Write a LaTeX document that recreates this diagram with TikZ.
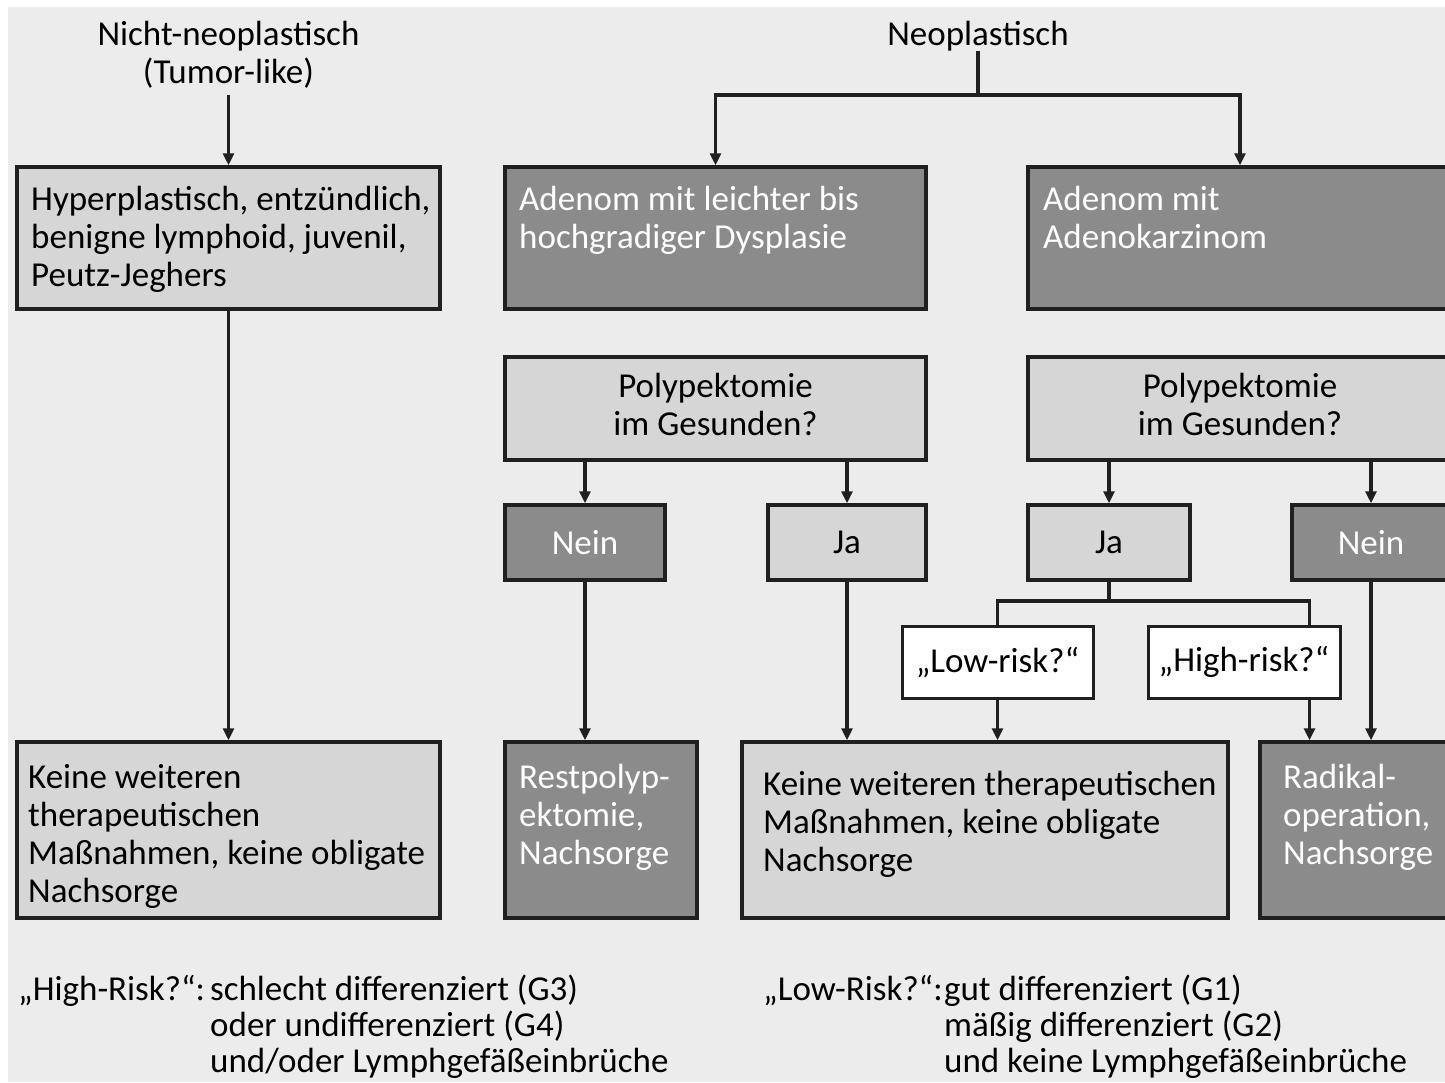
\documentclass[tikz,border=0pt]{standalone}
\usepackage{fontspec}
\setmainfont{Carlito}
\usepackage{tikz}
\usetikzlibrary{arrows.meta,calc}

\definecolor{bggray}{HTML}{ECECEC}
\definecolor{boxlight}{HTML}{D6D6D6}
\definecolor{boxdark}{HTML}{8B8B8B}
\definecolor{rim}{HTML}{202020}

\newcommand{\boxlines}[2][l]{\begin{tabular}[t]{@{}#1@{}}#2\end{tabular}}

\tikzset{
  plain/.style={font=\fontsize{35}{38}\selectfont, inner sep=0pt, text=black},
  wplain/.style={plain, text=white},
  box/.style={draw=rim, line width=3.5pt, inner sep=0pt, font=\fontsize{35}{38}\selectfont},
  lightbox/.style={box, fill=boxlight},
  darkbox/.style={box, fill=boxdark, text=white},
  whitebox/.style={box, fill=white, line width=3pt},
  line/.style={draw=rim, line width=3.5pt},
  arrow/.style={line, -{Triangle[length=12pt,width=11pt]}},
}

\begin{document}
\begin{tikzpicture}[x=1pt, y=-1pt]
    \useasboundingbox (0,0) rectangle (1445,1082);
    \clip (0,0) rectangle (1445,1082);
    \fill[white] (0,0) rectangle (1445,1082);
    \fill[bggray] (8,7) rectangle (1445,1082);

    % non-neoplastic branch
    \node[plain, anchor=base] (nneo) at (228.5,45) {\boxlines[c]{Nicht-neoplastisch\\(Tumor-like)}};
    \node[lightbox, minimum width=423, minimum height=142] (hyp) at (228.5,238) {};
    \node[plain, anchor=base west] at (31,210) {\boxlines{Hyperplastisch, entzündlich,\\benigne lymphoid, juvenil,\\Peutz-Jeghers}};
    \node[lightbox, minimum width=423, minimum height=176] (keine1) at (228.5,830) {};
    \node[plain, anchor=base west] at (28,788) {\boxlines{Keine weiteren\\therapeutischen\\Maßnahmen, keine obligate\\Nachsorge}};
    \draw[arrow] (nneo.south -| hyp.north) -- (hyp.north);
    \draw[arrow] (hyp.south) -- (keine1.north);

    % neoplastic branch
    \node[plain, anchor=base] (neo) at (978,45) {Neoplastisch};
    \coordinate (neosplit) at (978,95);
    \node[darkbox, minimum width=421, minimum height=142] (adys) at (715.5,238) {};
    \node[wplain, anchor=base west] at (519,210) {\boxlines{Adenom mit leichter bis\\hochgradiger Dysplasie}};
    \node[darkbox, minimum width=424, minimum height=142] (akarz) at (1240,238) {};
    \node[wplain, anchor=base west] at (1043,210) {\boxlines{Adenom mit\\Adenokarzinom}};
    \draw[line] (neo.south) -- (neosplit);
    \draw[arrow] (neosplit) -| (adys.north);
    \draw[arrow] (neosplit) -| (akarz.north);

    \node[lightbox, minimum width=421, minimum height=103] (poly1) at (715.5,408.5) {\boxlines[c]{Polypektomie\\im Gesunden?}};
    \node[lightbox, minimum width=424, minimum height=103] (poly2) at (1240,408.5) {\boxlines[c]{Polypektomie\\im Gesunden?}};

    \node[darkbox, minimum width=160, minimum height=75] (nein1) at (585,542.5) {Nein};
    \node[lightbox, minimum width=158, minimum height=75] (ja1) at (847,542.5) {Ja};
    \node[lightbox, minimum width=162, minimum height=75] (ja2) at (1109,542.5) {Ja};
    \node[darkbox, minimum width=158, minimum height=75] (nein2) at (1371,542.5) {Nein};
    \draw[arrow] (poly1.south -| nein1.north) -- (nein1.north);
    \draw[arrow] (poly1.south -| ja1.north) -- (ja1.north);
    \draw[arrow] (poly2.south -| ja2.north) -- (ja2.north);
    \draw[arrow] (poly2.south -| nein2.north) -- (nein2.north);

    % risk split
    \coordinate (jasplit) at (1109,601);
    \node[whitebox, minimum width=191, minimum height=72] (low) at (997.5,662) {„Low-risk?“};
    \node[whitebox, minimum width=192, minimum height=72] (high) at (1244,662) {„High-risk?“};
    \draw[line] (ja2.south) -- (jasplit);
    \draw[line] (jasplit) -| (low.north);
    \draw[line] (jasplit) -| ([xshift=-32]high.north east);

    % results
    \node[darkbox, minimum width=192, minimum height=176] (rest) at (601,830) {};
    \node[wplain, anchor=base west] at (519,788) {\boxlines{Restpolyp-\\ektomie,\\Nachsorge}};
    \node[lightbox, minimum width=486, minimum height=176] (keine2) at (985,830) {};
    \node[plain, anchor=base west] at (763,795) {\boxlines{Keine weiteren therapeutischen\\Maßnahmen, keine obligate\\Nachsorge}};
    \node[darkbox, minimum width=192, minimum height=176] (radikal) at (1356,830) {};
    \node[wplain, anchor=base west] at (1283,788) {\boxlines{Radikal-\\operation,\\Nachsorge}};
    \draw[arrow] (nein1.south) -- (nein1.south |- rest.north);
    \draw[arrow] (ja1.south) -- (ja1.south |- keine2.north);
    \draw[arrow] (low.south) -- (low.south |- keine2.north);
    \draw[arrow] ([xshift=-32]high.south east) -- ([xshift=-32]high.south east |- radikal.north);
    \draw[arrow] (nein2.south) -- (nein2.south |- radikal.north);

    % notes
    \node[plain, font=\fontsize{35}{36}\selectfont, anchor=base west] (highnote) at (18,1000)
      {\begin{tabular}[t]{@{}p{192pt}@{}l@{}}„High-Risk?“: & schlecht differenziert (G3)\\ & oder undifferenziert (G4)\\ & und/oder Lymphgefäßeinbrüche\end{tabular}};
    \node[plain, font=\fontsize{35}{36}\selectfont, anchor=base west] (lownote) at (763,1000)
      {\begin{tabular}[t]{@{}p{181pt}@{}l@{}}„Low-Risk?“: & gut differenziert (G1)\\ & mäßig differenziert (G2)\\ & und keine Lymphgefäßeinbrüche\end{tabular}};
\end{tikzpicture}
\end{document}
